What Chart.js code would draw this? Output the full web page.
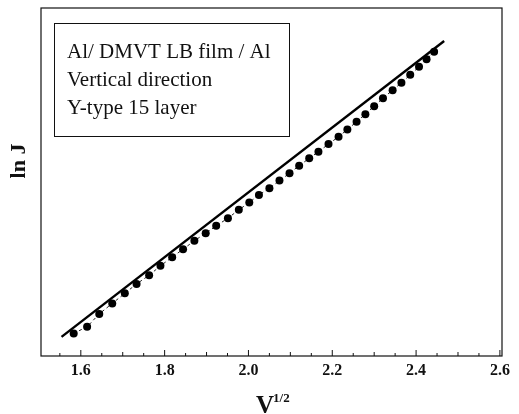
<!DOCTYPE html>
<html>
<head>
<meta charset="utf-8">
<script src="https://cdn.jsdelivr.net/npm/chart.js@4/dist/chart.umd.min.js"></script>
<style>
  html, body { margin: 0; padding: 0; background: #fff; }
  #wrap { width: 519px; height: 414px; }
</style>
</head>
<body>
<div id="wrap"><canvas id="plot" width="519" height="414"></canvas></div>
<script>
// measured points (V^1/2 vs ln J, ln J in arbitrary units, no ticks in original)
const sqrtV = [1.583, 1.615, 1.644, 1.675, 1.705, 1.733, 1.763, 1.790, 1.818, 1.844,
  1.871, 1.898, 1.923, 1.951, 1.977, 2.002, 2.025, 2.050, 2.074, 2.098,
  2.121, 2.145, 2.167, 2.191, 2.215, 2.236, 2.258, 2.279, 2.300, 2.321,
  2.344, 2.365, 2.386, 2.407, 2.425, 2.443];
const lnJ = [6.5, 8.4, 12.1, 15.1, 18.0, 20.7, 23.2, 25.9, 28.4, 30.7,
  33.1, 35.3, 37.4, 39.6, 42.0, 44.1, 46.3, 48.2, 50.4, 52.5,
  54.7, 56.8, 58.7, 60.9, 63.0, 65.1, 67.3, 69.5, 71.8, 74.1,
  76.4, 78.5, 80.8, 83.1, 85.3, 87.4];
// straight fit line end points
const fitX = [1.554, 2.467];
const fitY = [5.5, 90.5];
const xTicks = [1.6, 1.8, 2.0, 2.2, 2.4, 2.6];
const legendLines = ['Al/ DMVT LB film / Al', 'Vertical direction', 'Y-type 15 layer'];

const serif = '"Liberation Serif", "DejaVu Serif", serif';

const framePlugin = {
  id: 'frame',
  afterDraw(chart) {
    const { ctx, chartArea: a } = chart;
    const xs = chart.scales.x;
    ctx.save();
    ctx.strokeStyle = '#111';
    ctx.lineWidth = 1.2;
    ctx.strokeRect(a.left, a.top, a.right - a.left, a.bottom - a.top);

    // small inward ticks on the bottom axis every 0.05
    ctx.lineWidth = 1;
    for (let i = 31; i <= 52; i++) {
      const v = i / 20;
      const px = xs.getPixelForValue(v);
      if (px < a.left + 1 || px > a.right - 1) continue;
      let len = 3;
      if (i % 4 === 0) len = 6;
      else if (i % 2 === 0) len = 4;
      ctx.beginPath();
      ctx.moveTo(px, a.bottom);
      ctx.lineTo(px, a.bottom - len);
      ctx.stroke();
    }

    // text box
    ctx.lineWidth = 1;
    ctx.strokeRect(54.5, 23.5, 235, 113);
    ctx.fillStyle = '#111';
    ctx.font = '21px ' + serif;
    ctx.textBaseline = 'middle';
    ctx.textAlign = 'left';
    legendLines.forEach((t, i) => ctx.fillText(t, 67, 52 + i * 28));

    // axis titles
    ctx.font = 'bold 22px ' + serif;
    ctx.save();
    ctx.translate(19, 161);
    ctx.rotate(-Math.PI / 2);
    ctx.textAlign = 'center';
    ctx.fillText('ln J', 0, 0);
    ctx.restore();

    ctx.font = 'bold 25px ' + serif;
    ctx.textAlign = 'left';
    ctx.textBaseline = 'alphabetic';
    ctx.fillText('V', 256, 413);
    const vw = ctx.measureText('V').width;
    ctx.font = 'bold 13px ' + serif;
    ctx.fillText('1/2', 256 + vw - 1, 402);
    ctx.restore();
  }
};

new Chart(document.getElementById('plot'), {
  type: 'scatter',
  data: {
    datasets: [
      {
        label: 'fit',
        data: fitX.map((x, i) => ({ x: x, y: fitY[i] })),
        showLine: true,
        borderColor: '#000',
        borderWidth: 2.4,
        pointRadius: 0
      },
      {
        label: 'data',
        data: sqrtV.map((x, i) => ({ x: x, y: lnJ[i] })),
        showLine: true,
        borderColor: '#222',
        borderWidth: 1,
        borderDash: [3, 3],
        backgroundColor: '#000',
        pointBackgroundColor: '#000',
        pointBorderWidth: 0,
        pointRadius: 4
      }
    ]
  },
  options: {
    responsive: false,
    animation: false,
    layout: { padding: { top: 8, right: 17, left: 0, bottom: 0 } },
    plugins: { legend: { display: false }, tooltip: { enabled: false } },
    scales: {
      x: {
        type: 'linear',
        min: 1.505,
        max: 2.605,
        afterFit(s) { s.height = 58; },
        afterBuildTicks(s) { s.ticks = xTicks.map(v => ({ value: v })); },
        grid: { display: false, drawTicks: false },
        border: { display: false },
        ticks: {
          padding: 5,
          color: '#111',
          font: { family: serif, size: 16, weight: 'bold' },
          callback: v => v.toFixed(1)
        }
      },
      y: {
        min: 0,
        max: 100,
        afterFit(s) { s.width = 41; },
        grid: { display: false, drawTicks: false },
        border: { display: false },
        ticks: { display: false }
      }
    }
  },
  plugins: [framePlugin]
});
</script>
</body>
</html>
